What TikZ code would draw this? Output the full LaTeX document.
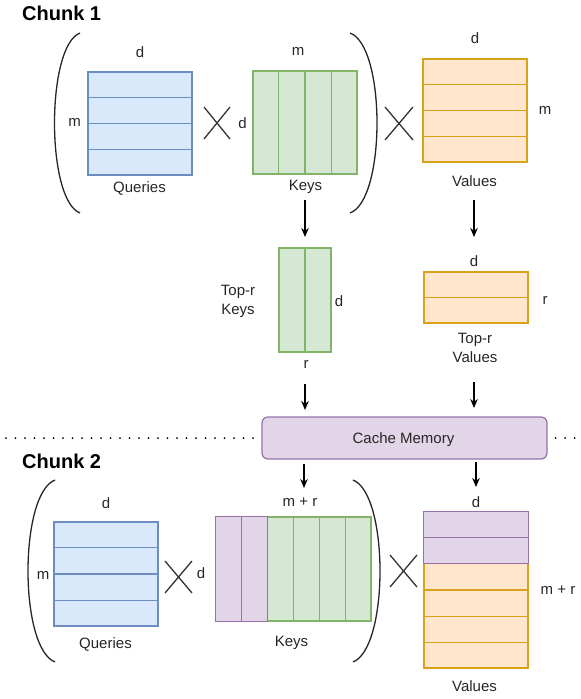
\documentclass[tikz,border=0pt]{standalone}
\usepackage{fontspec}
\setmainfont{Liberation Sans}
\usetikzlibrary{calc,arrows.meta}
\definecolor{qfill}{HTML}{DAE8FC}
\definecolor{qline}{HTML}{6C8EBF}
\definecolor{kfill}{HTML}{D5E8D4}
\definecolor{kline}{HTML}{82B366}
\definecolor{vfill}{HTML}{FFE6CC}
\definecolor{vline}{HTML}{D9A21B}
\definecolor{pfill}{HTML}{E1D5E7}
\definecolor{pline}{HTML}{9673A6}
\definecolor{txt}{HTML}{262626}
\definecolor{xcol}{HTML}{333333}
\tikzset{
  qbox/.style={draw=qline, fill=qfill, line width=1.2pt, inner sep=0pt},
  kbox/.style={draw=kline, fill=kfill, line width=1.2pt, inner sep=0pt},
  vbox/.style={draw=vline, fill=vfill, line width=1.2pt, inner sep=0pt},
  pbox/.style={draw=pline, fill=pfill, line width=1.2pt, inner sep=0pt},
  qdiv/.style={draw=qline, line width=1.2pt},
  kdiv/.style={draw=kline, line width=1.2pt},
  vdiv/.style={draw=vline, line width=1.2pt},
  pdiv/.style={draw=pline, line width=1.2pt},
  lbl/.style={anchor=base, inner sep=0pt, font=\fontsize{15}{18.5}\selectfont, text=txt},
  mlbl/.style={anchor=north, inner sep=0pt, align=center, font=\fontsize{15}{18.5}\selectfont, text=txt},
  title/.style={anchor=base west, inner sep=0pt, font=\fontsize{20}{24}\selectfont\bfseries, text=black},
  times/.style={draw=xcol, line width=1.3pt},
  paren/.style={draw=black!85, line width=1.3pt},
  arr/.style={-{Stealth[length=9pt,width=7.5pt]}, line width=1.3pt, draw=black},
  dotline/.style={draw=black, line width=2pt, line cap=round, dash pattern=on 0pt off 9.5pt}
}
\begin{document}
\begin{tikzpicture}[x=1pt,y=-1pt]
\useasboundingbox (0,0) rectangle (581,699);

% ---------------- Chunk 1 ----------------
\node[title] (t1) at (22,20) {Chunk 1};

\draw[paren] (80,33) .. controls (46,46) and (46,200) .. (80,213);
\draw[paren] (350,33) .. controls (386,46) and (386,200) .. (350,213);

% Queries
\node[qbox, minimum width=104pt, minimum height=103pt] (q1) at (140,123.5) {};
\foreach \k in {1,2,3}
  \draw[qdiv] ($(q1.north west)!\k/4!(q1.south west)$) -- ($(q1.north east)!\k/4!(q1.south east)$);
\node[lbl] (q1d) at (140,57) {d};
\node[lbl] (q1m) at (74.5,126) {m};
\node[lbl] (q1l) at (139.5,192) {Queries};

\draw[times] (204,107) -- (230,139);
\draw[times] (204,139) -- (230,107);
\node[lbl] (x1d) at (242.5,128) {d};

% Keys
\node[kbox, minimum width=104pt, minimum height=103pt] (k1) at (305,122.5) {};
\foreach \k in {1,2,3}
  \draw[kdiv] ($(k1.north west)!\k/4!(k1.north east)$) -- ($(k1.south west)!\k/4!(k1.south east)$);
\node[lbl] (k1m) at (298,55) {m};
\node[lbl] (k1l) at (305.5,190) {Keys};

\draw[times] (385,107) -- (413,140);
\draw[times] (385,140) -- (413,107);

% Values
\node[vbox, minimum width=104pt, minimum height=103pt] (v1) at (475,110.5) {};
\foreach \k in {1,2,3}
  \draw[vdiv] ($(v1.north west)!\k/4!(v1.south west)$) -- ($(v1.north east)!\k/4!(v1.south east)$);
\node[lbl] (v1d) at (475,43) {d};
\node[lbl] (v1m) at (545,114) {m};
\node[lbl] (v1l) at (474.5,186) {Values};

% Top-r Keys
\node[kbox, minimum width=52pt, minimum height=104pt] (tk) at (305,300) {};
\draw[kdiv] (tk.north) -- (tk.south);
\node[mlbl] (tkl) at (238,285) {Top-r\\Keys};
\node[lbl] (tkd) at (339,306) {d};
\node[lbl] (tkr) at (306,368) {r};

% Top-r Values
\node[vbox, minimum width=104pt, minimum height=51pt] (tv) at (476,297.5) {};
\draw[vdiv] (tv.west) -- (tv.east);
\node[lbl] (tvd) at (474,266) {d};
\node[lbl] (tvr) at (545,304) {r};
\node[mlbl] (tvl) at (475,333) {Top-r\\Values};

% arrows chunk 1
\coordinate (a1s) at (305,200); \coordinate (a1e) at (305,237);
\coordinate (a2s) at (474,200); \coordinate (a2e) at (474,237);
\draw[arr] (a1s) -- (a1e);
\draw[arr] (a2s) -- (a2e);

\coordinate (a3s) at (305,384); \coordinate (a3e) at (305,410);
\coordinate (a4s) at (474,382); \coordinate (a4e) at (474,408);
\draw[arr] (a3s) -- (a3e);
\draw[arr] (a4s) -- (a4e);

% Cache memory
\node[pbox, rounded corners=6pt, minimum width=285pt, minimum height=42pt] (cache) at (404.5,438) {};
\node[lbl] (cachel) at (403.5,443) {Cache Memory};
\coordinate (dl) at (6,438);
\coordinate (dr) at (580,438);
\draw[dotline] (dl) -- ($(cache.west)+(-5,0)$);
\draw[dotline] ($(cache.east)+(8,0)$) -- (dr);

% arrows from cache
\coordinate (a5s) at (304,464); \coordinate (a5e) at (304,488);
\coordinate (a6s) at (476,462); \coordinate (a6e) at (476,487);
\draw[arr] (a5s) -- (a5e);
\draw[arr] (a6s) -- (a6e);

% ---------------- Chunk 2 ----------------
\node[title] (t2) at (22,468) {Chunk 2};

\draw[paren] (55,480) .. controls (19,494) and (19,648) .. (55,662);
\draw[paren] (353,480) .. controls (389,494) and (389,648) .. (353,662);

% Queries 2
\node[qbox, minimum width=104pt, minimum height=104pt] (q2) at (106,574) {};
\foreach \k in {1,2,3}
  \draw[qdiv] ($(q2.north west)!\k/4!(q2.south west)$) -- ($(q2.north east)!\k/4!(q2.south east)$);
\node[lbl] (q2d) at (106,508) {d};
\node[lbl] (q2m) at (43,579) {m};
\node[lbl] (q2l) at (105.5,648) {Queries};

\draw[times] (165,561) -- (192,593);
\draw[times] (165,593) -- (192,561);
\node[lbl] (x3d) at (201,578) {d};

% Keys 2
\node[kbox, minimum width=155pt, minimum height=104pt] (k2) at (293.5,569) {};
\foreach \k in {3,4,5}
  \draw[kdiv] ($(k2.north west)!\k/6!(k2.north east)$) -- ($(k2.south west)!\k/6!(k2.south east)$);
\draw[pbox] (k2.north west) rectangle ($(k2.south west)!1/3!(k2.south east)$);
\draw[pdiv] ($(k2.north west)!1/6!(k2.north east)$) -- ($(k2.south west)!1/6!(k2.south east)$);
\node[lbl] (k2m) at (300,506) {m + r};
\node[lbl] (k2l) at (291.5,646) {Keys};

\draw[times] (390,555) -- (417,587);
\draw[times] (390,587) -- (417,555);

% Values 2
\node[vbox, minimum width=104pt, minimum height=156pt] (v2) at (476,590) {};
\foreach \k in {3,4,5}
  \draw[vdiv] ($(v2.north west)!\k/6!(v2.south west)$) -- ($(v2.north east)!\k/6!(v2.south east)$);
\draw[pbox] (v2.north west) rectangle ($(v2.north east)!1/3!(v2.south east)$);
\draw[pdiv] ($(v2.north west)!1/6!(v2.south west)$) -- ($(v2.north east)!1/6!(v2.south east)$);
\node[lbl] (v2d) at (476,507) {d};
\node[lbl] (v2m) at (558,594) {m + r};
\node[lbl] (v2l) at (474.5,691) {Values};

\end{tikzpicture}
\end{document}
